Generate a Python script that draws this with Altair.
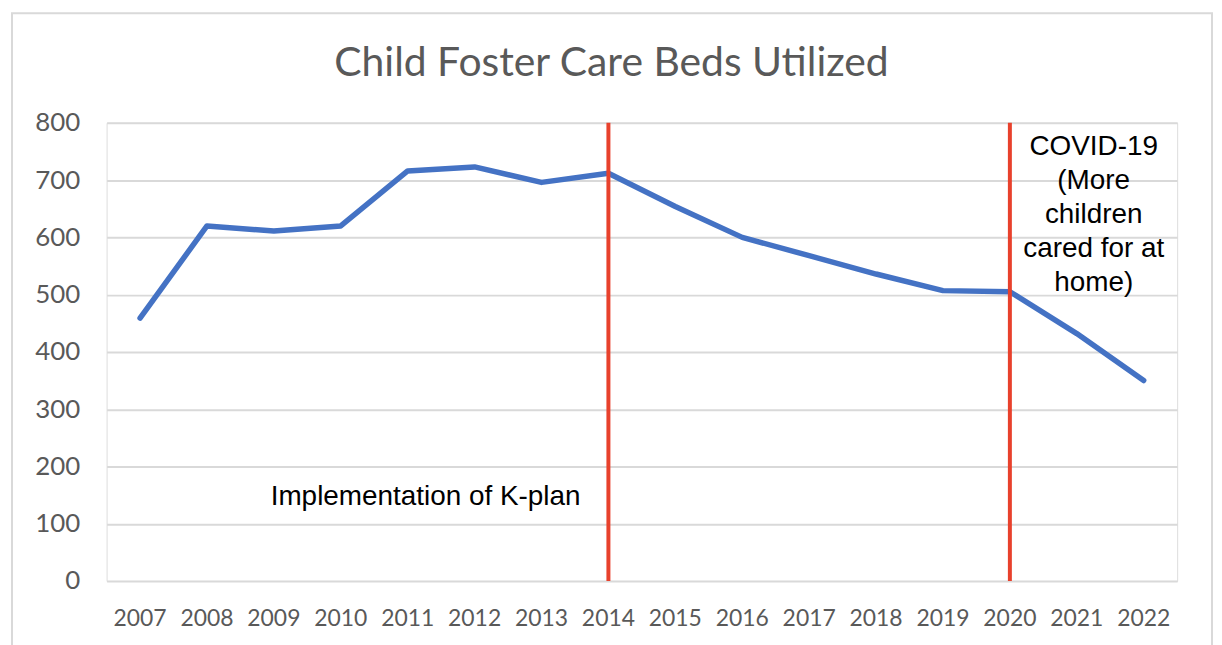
import altair as alt
import pandas as pd

years = [str(y) for y in range(2007, 2023)]
beds = [459, 620, 611, 620, 716, 723, 696, 712, 654, 600, 568, 536, 507, 505, 432, 350]
event_years = ["2014", "2020"]
y_ticks = [0, 100, 200, 300, 400, 500, 600, 700, 800]
title_text = "Child Foster Care Beds Utilized"

df = pd.DataFrame({"year": years, "beds": beds})
ev = pd.DataFrame({"year": event_years, "top": [800, 800], "bottom": [0, 0]})
notes = pd.DataFrame({
    "year": ["2011", "2021"],
    "val": [146, 758],
    "label": [["Implementation of K-plan"],
              ["COVID-19", "(More", "children", "cared for at", "home)"]],
})

W, H = 1075, 460

xenc = alt.X("year:N", sort=years, title=None,
             scale=alt.Scale(paddingInner=0, paddingOuter=0),
             axis=alt.Axis(labelAngle=0, labelFont="Lato", labelFontSize=23,
                           labelColor="#595959", domain=False, ticks=False,
                           tickSize=0, labelPadding=27, grid=False))
yscale = alt.Scale(domain=[0, 800], nice=False)

frame = alt.Chart(pd.DataFrame({"a": [0]})).mark_rect(
    fillOpacity=0, stroke="#d9d9d9", strokeWidth=2
).encode(x=alt.value(-95), x2=alt.value(1110), y=alt.value(-110), y2=alt.value(530))

title = alt.Chart(pd.DataFrame({"t": [title_text]})).mark_text(
    font="Lato", fontSize=41, color="#595959", align="center", baseline="alphabetic"
).encode(x=alt.value(507), y=alt.value(-47), text="t:N")

line = alt.Chart(df).mark_line(color="#4472C4", strokeWidth=5.5,
                               strokeCap="round", strokeJoin="round").encode(
    x=xenc,
    y=alt.Y("beds:Q", scale=yscale, title=None,
            axis=alt.Axis(values=y_ticks, labelFont="Lato", labelFontSize=26,
                          labelColor="#595959", domain=False, ticks=False,
                          tickSize=0, labelPadding=27, gridColor="#d9d9d9",
                          gridWidth=2)),
)

rules = alt.Chart(ev).mark_rule(color="#E8412C", strokeWidth=4).encode(
    x=alt.X("year:N", sort=years),
    y=alt.Y("top:Q", scale=yscale),
    y2="bottom:Q",
)

note1 = alt.Chart(notes.iloc[[0]]).mark_text(
    font="Liberation Sans", fontSize=28, color="black", align="center",
    baseline="middle", dx=18
).encode(x=alt.X("year:N", sort=years), y=alt.Y("val:Q", scale=yscale), text="label")

note2 = alt.Chart(notes.iloc[[1]]).mark_text(
    font="Liberation Sans", fontSize=28, color="black", align="center",
    baseline="middle", dx=17, lineHeight=34.2
).encode(x=alt.X("year:N", sort=years), y=alt.Y("val:Q", scale=yscale), text="label")

chart = alt.layer(frame, title, line, rules, note1, note2).properties(
    width=W, height=H,
    autosize=alt.AutoSizeParams(type="none"),
    padding={"left": 99, "top": 114, "right": 37, "bottom": 63},
).configure_view(stroke=None).configure(background="white")

chart.save("out.html", embed_options={"renderer": "svg", "actions": False})
